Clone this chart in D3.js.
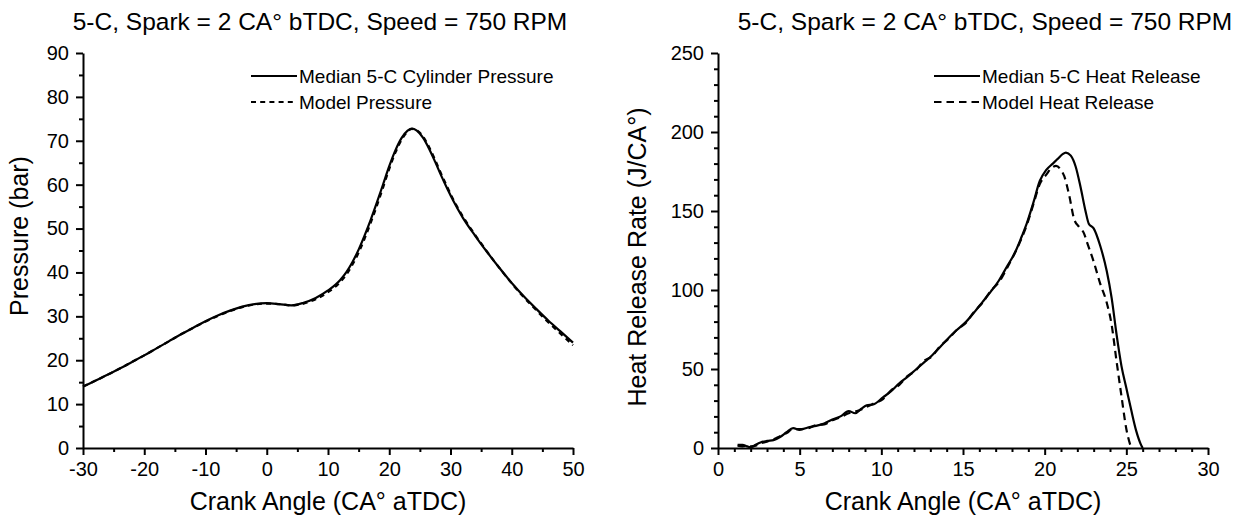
<!DOCTYPE html>
<html><head><meta charset="utf-8">
<script src="https://cdn.jsdelivr.net/npm/d3@7"></script>
<style>
body{margin:0;background:#fff;}
svg text{font-family:"Liberation Sans",Arial,sans-serif;fill:#000;}
</style></head>
<body><svg id="c" width="1241" height="525"></svg>
<script>
// ---- Left chart data: cylinder pressure ----
const pAngle  = [-30,-28,-26,-24,-22,-20,-18,-16,-14,-12,-10,-8,-6,-4,-2,0,2,4,6,8,10,12,13,14,15,16,17,18,19,20,21,22,23,23.7,24.5,25.5,26.5,27.5,28.5,29.5,30.5,32,34,36,38,40,42,44,46,48,50];
const pMedian = [14.0,15.3,16.7,18.1,19.6,21.1,22.7,24.3,25.9,27.4,28.9,30.2,31.3,32.2,32.8,33.0,32.8,32.5,33.1,34.2,35.9,38.3,40.1,42.4,45.2,48.5,52.1,56.0,60.1,64.2,67.8,70.6,72.3,72.8,72.3,70.7,68.2,65.2,62.0,59.0,56.2,52.5,48.4,44.6,41.0,37.6,34.5,31.7,29.0,26.5,24.0];
const pModel  = [14.0,15.3,16.7,18.1,19.6,21.1,22.7,24.3,25.9,27.4,28.8,30.1,31.2,32.1,32.7,32.9,32.8,32.5,32.9,33.9,35.5,37.8,39.5,41.8,44.5,47.8,51.4,55.3,59.4,63.6,67.3,70.2,72.1,72.7,72.4,71.0,68.6,65.6,62.4,59.4,56.5,52.8,48.6,44.7,41.0,37.5,34.3,31.4,28.6,26.0,23.4];
const pXTicks = [-30,-20,-10,0,10,20,30,40,50];
const pYTicks = [0,10,20,30,40,50,60,70,80,90];

// ---- Right chart data: heat release rate ----
const hAngle  = [1.2,1.5,1.8,2.0,2.3,2.6,3.0,3.4,3.8,4.2,4.6,5.0,5.5,6.0,6.5,7.0,7.5,8.0,8.4,8.8,9.1,9.5,10.1,10.6,11.1,11.6,12.1,12.6,13.1,13.6,14.1,14.6,15.2,15.7,16.2,16.7,17.2,17.7,18.2,18.6,18.9,19.3,19.7,20.1,20.5,20.8,21.1,21.3,21.6,21.9,22.2,22.5,22.7,23.0,23.4,23.8,24.1,24.4,24.7,25.0,25.3,25.6,25.9,26.0];
const hMedian = [2,2,1,0.5,2,3.5,4.5,5,7,10,12.6,11.4,13,14,15.5,18,20,23.4,22,25,27,27.5,32,36,41,45,49.5,54,58.5,64,69.5,74.5,80,86,92.5,99,106,115,124,134,142,155,169,176,180,183,186,187,185,178,165,150,142,139,128,112,95,72,52,38,24,11,2,0];
const hModelAngle = [1.2,1.5,1.8,2.0,2.3,2.6,3.0,3.4,3.8,4.2,4.6,5.0,5.5,6.0,6.5,7.0,7.5,8.0,8.4,8.8,9.1,9.5,10.1,10.6,11.1,11.6,12.1,12.6,13.1,13.6,14.1,14.6,15.2,15.7,16.2,16.7,17.2,17.7,18.2,18.6,18.9,19.3,19.7,20.1,20.4,20.7,21.0,21.2,21.5,21.8,22.1,22.4,22.6,23.0,23.4,23.8,24.1,24.4,24.7,25.0,25.3];
const hModel  = [1.5,1,1.5,1,1.5,3,4,5.5,7.5,9.5,12,12,12.5,14.5,15,17.5,19.5,22,23,24.5,26,28,31,36.5,40,45.5,49,55,58,64.5,69,74.5,79.5,86.5,92,99.5,105,114,124,133,141,154,167,173,177,178.5,176,172,160,145,140,136,130,118,104,92,78,55,33,12,0];
const hXTicks = [0,5,10,15,20,25,30];
const hYTicks = [0,50,100,150,200,250];

const title = "5-C, Spark = 2 CA\u00B0 bTDC, Speed = 750 RPM";
const xTitle = "Crank Angle (CA\u00B0 aTDC)";

const svg = d3.select("#c");

function panel(o){
  const g = svg.append("g");
  const x = d3.scaleLinear().domain(o.xDom).range([o.x0,o.x1]);
  const y = d3.scaleLinear().domain(o.yDom).range([o.y0,o.y1]);
  // minor ticks
  const xa = d3.axisBottom(x).tickValues(o.xMinor).tickSize(4).tickFormat("");
  const ya = d3.axisLeft(y).tickValues(o.yMinor).tickSize(4).tickFormat("");
  [g.append("g").attr("transform",`translate(0,${o.y0})`).call(xa),
   g.append("g").attr("transform",`translate(${o.x0},0)`).call(ya)].forEach(s=>{
     s.select(".domain").remove(); s.selectAll("line").attr("stroke","#000").attr("stroke-width",2);
   });
  const fmt = d => String(d);
  const xA = d3.axisBottom(x).tickValues(o.xTicks).tickFormat(fmt).tickSize(7).tickSizeOuter(0).tickPadding(7);
  const yA = d3.axisLeft(y).tickValues(o.yTicks).tickFormat(fmt).tickSize(7).tickSizeOuter(0).tickPadding(7);
  const gx = g.append("g").attr("transform",`translate(0,${o.y0})`).call(xA);
  const gy = g.append("g").attr("transform",`translate(${o.x0},0)`).call(yA);
  [gx,gy].forEach(s=>{
    s.select(".domain").attr("stroke","#000").attr("stroke-width",2);
    s.selectAll("line").attr("stroke","#000").attr("stroke-width",2);
    s.selectAll("text").attr("font-size",20).attr("font-family","Liberation Sans, Arial, sans-serif").attr("fill","#000");
  });
  const line = d3.line().x(d=>x(d[0])).y(d=>y(d[1])).curve(d3.curveMonotoneX);
  g.append("path").datum(d3.zip(o.ax, o.s1)).attr("d",line)
    .attr("fill","none").attr("stroke","#000").attr("stroke-width",2.2);
  g.append("path").datum(d3.zip(o.bx, o.s2)).attr("d",line)
    .attr("fill","none").attr("stroke","#000").attr("stroke-width",2.2).attr("stroke-dasharray",o.dash);
  // titles
  g.append("text").attr("x",o.tx).attr("y",30).attr("text-anchor","middle").attr("font-size",24.5).text(title);
  g.append("text").attr("x",(o.x0+o.x1)/2).attr("y",510).attr("text-anchor","middle").attr("font-size",25).text(xTitle);
  g.append("text").attr("transform",`translate(${o.ylx},${o.ylc}) rotate(-90)`)
    .attr("text-anchor","middle").attr("font-size",25).text(o.yTitle);
  // legend
  const L = o.leg;
  [[L.y1,o.l1,null],[L.y2,o.l2,o.dash]].forEach(([ly,txt,dash])=>{
    const ln = g.append("line").attr("x1",L.x).attr("x2",L.x+46).attr("y1",ly).attr("y2",ly)
      .attr("stroke","#000").attr("stroke-width",2.2);
    if(dash) ln.attr("stroke-dasharray",dash);
    g.append("text").attr("x",L.x+48).attr("y",ly+7).attr("font-size",19).text(txt);
  });
}

panel({xDom:[-30,50], yDom:[0,90], x0:83, x1:573, y0:448, y1:53,
  xTicks:pXTicks, yTicks:pYTicks,
  xMinor:d3.range(-25,50,10), yMinor:d3.range(5,90,10),
  ax:pAngle, s1:pMedian, bx:pAngle, s2:pModel, dash:"5,4.2",
  tx:320, ylx:28, ylc:236, yTitle:"Pressure (bar)",
  leg:{x:251,y1:76,y2:102}, l1:"Median 5-C Cylinder Pressure", l2:"Model Pressure"});

panel({xDom:[0,30], yDom:[0,250], x0:718, x1:1208, y0:448, y1:53,
  xTicks:hXTicks, yTicks:hYTicks,
  xMinor:d3.range(1,30,1).filter(v=>v%5), yMinor:d3.range(10,250,10).filter(v=>v%50),
  ax:hAngle, s1:hMedian, bx:hModelAngle, s2:hModel, dash:"7.5,5",
  tx:985, ylx:646, ylc:257, yTitle:"Heat Release Rate (J/CA\u00B0)",
  leg:{x:934,y1:76,y2:102}, l1:"Median 5-C Heat Release", l2:"Model Heat Release"});
</script></body></html>
